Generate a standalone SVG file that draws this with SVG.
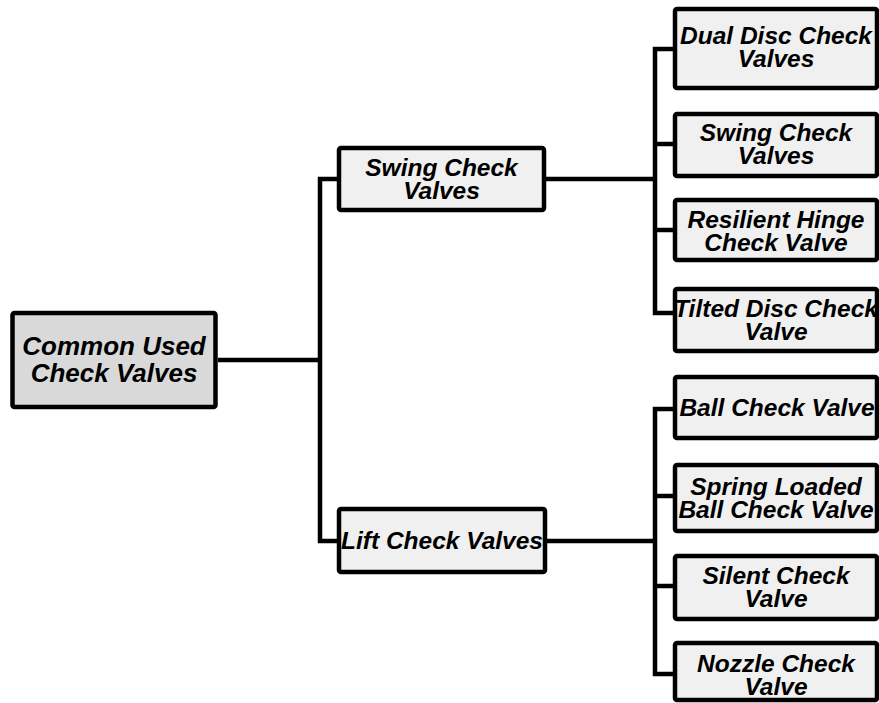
<svg xmlns="http://www.w3.org/2000/svg" width="879" height="703" viewBox="0 0 879 703">
<style>
.box{fill:#f0f0f0;stroke:#000;stroke-width:4.5}
.root{fill:#d9d9d9;stroke:#000;stroke-width:4.5}
.t{font-family:"Liberation Sans",Arial,sans-serif;font-weight:bold;font-style:italic;font-size:24.5px;fill:#000;text-anchor:middle}
.rt{font-size:26px}
.c{fill:none;stroke:#000;stroke-width:4.5;stroke-linejoin:miter}
</style>
<rect width="879" height="703" fill="#fff"/>
<g id="connectors">
<path class="c" d="M218,360 H320"/>
<path class="c" d="M339,179 H320 V541 H339"/>
<path class="c" d="M545,179 H655"/>
<path class="c" d="M673,49 H655 V313 H673"/>
<path class="c" d="M655,144 H673 M655,230 H673"/>
<path class="c" d="M545,541 H655"/>
<path class="c" d="M673,409 H655 V674 H673"/>
<path class="c" d="M655,496 H673 M655,586 H673"/>
</g>
<g id="root">
<rect class="root" x="12.5" y="313" width="203" height="94" rx="2"/>
<text class="t rt" x="114" y="355">Common Used<tspan x="114" dy="27">Check Valves</tspan></text>
</g>
<g id="swing">
<rect class="box" x="339" y="148" width="205" height="62" rx="2"/>
<text class="t" x="441.5" y="176">Swing Check<tspan x="441.5" dy="23">Valves</tspan></text>
</g>
<g id="lift">
<rect class="box" x="339" y="509" width="206" height="63" rx="2"/>
<text class="t" x="442" y="549">Lift Check Valves</text>
</g>
<g id="dual-disc">
<rect class="box" x="675" y="9" width="202" height="79" rx="2"/>
<text class="t" x="776" y="44">Dual Disc Check<tspan x="776" dy="23">Valves</tspan></text>
</g>
<g id="swing-leaf">
<rect class="box" x="675" y="114" width="202" height="62" rx="2"/>
<text class="t" x="776" y="141">Swing Check<tspan x="776" dy="23">Valves</tspan></text>
</g>
<g id="resilient">
<rect class="box" x="675" y="200" width="202" height="60" rx="2"/>
<text class="t" x="776" y="228">Resilient Hinge<tspan x="776" dy="23">Check Valve</tspan></text>
</g>
<g id="tilted">
<rect class="box" x="675" y="289" width="202" height="62" rx="2"/>
<text class="t" x="776" y="317">Tilted Disc Check<tspan x="776" dy="23">Valve</tspan></text>
</g>
<g id="ball">
<rect class="box" x="675" y="377" width="202" height="61" rx="2"/>
<text class="t" x="777" y="416">Ball Check Valve</text>
</g>
<g id="spring">
<rect class="box" x="675" y="465" width="202" height="66" rx="2"/>
<text class="t" x="776" y="495">Spring Loaded<tspan x="776" dy="23">Ball Check Valve</tspan></text>
</g>
<g id="silent">
<rect class="box" x="675" y="556" width="202" height="63" rx="2"/>
<text class="t" x="776" y="584">Silent Check<tspan x="776" dy="23">Valve</tspan></text>
</g>
<g id="nozzle">
<rect class="box" x="675" y="643" width="202" height="57" rx="2"/>
<text class="t" x="776" y="672">Nozzle Check<tspan x="776" dy="23">Valve</tspan></text>
</g>
</svg>
